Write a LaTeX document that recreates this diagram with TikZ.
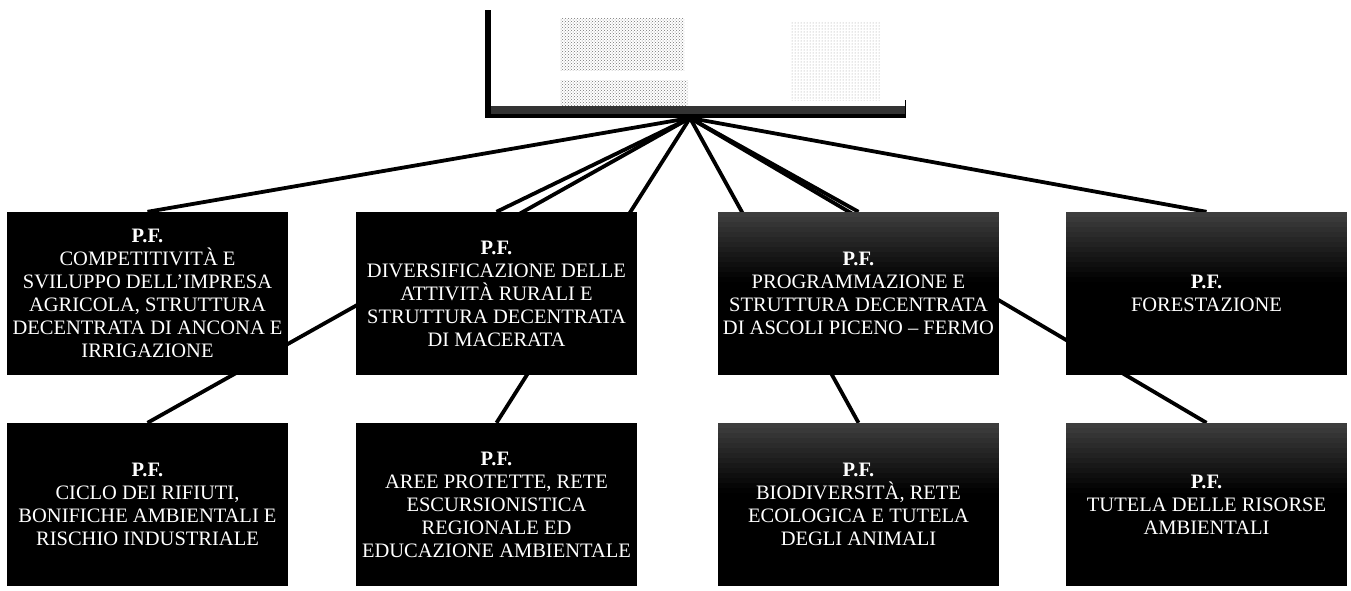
\documentclass[tikz,border=0pt]{standalone}
\usepackage{fontspec}
\setmainfont{Liberation Serif}
\usetikzlibrary{patterns}
\pgfdeclarelayer{bg}
\pgfsetlayers{bg,main}
\tikzset{
  unit/.style={rectangle, fill=black, text=white, minimum width=281pt,
    minimum height=163pt, inner sep=0pt, align=center,
    font=\fontsize{20.5}{23}\selectfont},
  % worn top of a box: stacked strips that darken to full black
  hazy/.style={path picture={
    \foreach \i [evaluate=\i as \c using 76+1.8*\i] in {0,...,13}
      \fill[black!\c] ([yshift={-\i*5pt}]path picture bounding box.north west)
        rectangle ([yshift={-\i*5pt-5pt}]path picture bounding box.north east);}},
  link/.style={line width=3.8pt, black},
  speckle/.style={pattern=crosshatch dots, pattern color=black!55},
}
\begin{document}
\begin{tikzpicture}[x=1pt,y=-1pt]
\useasboundingbox (0,0) rectangle (1351,590);

% head office box (faded)
\node[minimum width=420pt, minimum height=108pt, inner sep=0pt] (top) at (695,64) {};
\fill[speckle] (560,18) rectangle (684,70);
\fill[speckle] (560,80) rectangle (688,106);
\fill[pattern=dots, pattern color=black!40] (790,22) rectangle (880,100);
\fill[black!80] ([yshift=12pt]top.south west) rectangle (top.south east);
\fill[black] ([yshift=4pt]top.south west) rectangle (top.south east);
\fill[black] (top.north west) rectangle ([xshift=6pt]top.south west);
\draw[line width=1pt] (top.south east) -- ([yshift=18pt]top.south east);
\coordinate (hub) at (690,118);

% first row of units
\node[unit] (b1) at (147.5,293.5) {\textbf{P.F.}\\COMPETITIVITÀ E\\SVILUPPO DELL'IMPRESA\\AGRICOLA, STRUTTURA\\DECENTRATA DI ANCONA E\\IRRIGAZIONE};
\node[unit] (b2) at (496.5,293.5) {\textbf{P.F.}\\DIVERSIFICAZIONE DELLE\\ATTIVITÀ RURALI E\\STRUTTURA DECENTRATA\\DI MACERATA};
\node[unit,hazy] (b3) at (858.5,293.5) {\textbf{P.F.}\\PROGRAMMAZIONE E\\STRUTTURA DECENTRATA\\DI ASCOLI PICENO – FERMO};
\node[unit,hazy] (b4) at (1206.5,293.5) {\textbf{P.F.}\\FORESTAZIONE};

% second row of units
\node[unit] (b5) at (147.5,504.5) {\textbf{P.F.}\\CICLO DEI RIFIUTI,\\BONIFICHE AMBIENTALI E\\RISCHIO INDUSTRIALE};
\node[unit] (b6) at (496.5,504.5) {\textbf{P.F.}\\AREE PROTETTE, RETE\\ESCURSIONISTICA\\REGIONALE ED\\EDUCAZIONE AMBIENTALE};
\node[unit,hazy] (b7) at (858.5,504.5) {\textbf{P.F.}\\BIODIVERSITÀ, RETE\\ECOLOGICA E TUTELA\\DEGLI ANIMALI};
\node[unit,hazy] (b8) at (1206.5,504.5) {\textbf{P.F.}\\TUTELA DELLE RISORSE\\AMBIENTALI};

% connectors run behind the boxes
\begin{pgfonlayer}{bg}
\foreach \b in {b1,b2,b3,b4,b5,b6,b7,b8}
  \draw[link] (hub) -- (\b.north);
\end{pgfonlayer}
\end{tikzpicture}
\end{document}
